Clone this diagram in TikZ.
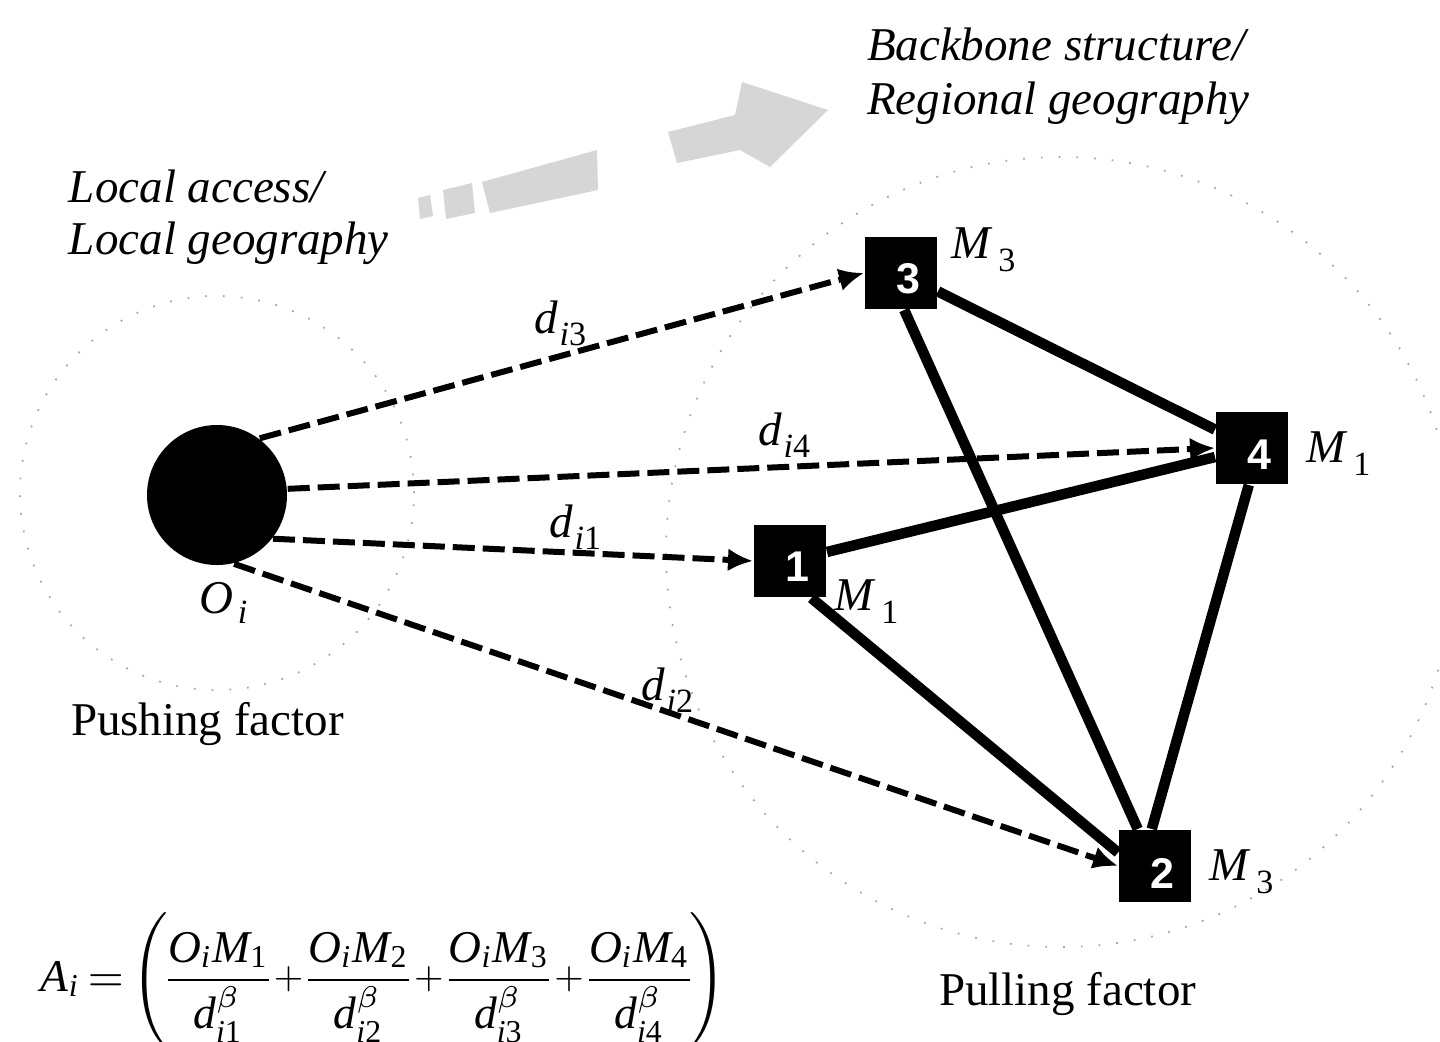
\documentclass[tikz,border=0pt]{standalone}
\usepackage{amsmath}
\usepackage{graphicx}
\usepackage{fontspec}
\setmainfont{Liberation Serif}
\newfontfamily\digitfont{Liberation Sans}
\usetikzlibrary{arrows.meta}
\newcommand\itx[1]{\text{\itshape #1}}
\newcommand\sublow[2]{\raisebox{-#1}{\fontsize{6.8}{7}\selectfont #2}}
\newcommand\Mlab[1]{\textit{M}\kern1.2pt\sublow{2.6pt}{#1}}
\newcommand\dlab[1]{\textit{d}\kern0.4pt\sublow{2.4pt}{\textit{i}#1}}
\newcommand\frc[1]{\dfrac{\itx{O}_{\itx{i}}\itx{M}_{\text{#1}}}{\itx{d}^{\beta}_{\itx{i}\text{#1}}}}
\newcommand\pls{\mathbin{\raisebox{0.5pt}{\scalebox{0.82}{$+$}}}}
\begin{document}
\begin{tikzpicture}[x=0.2pt,y=-0.2pt,
  site/.style={fill=black, minimum size=14.4pt, inner sep=0pt, draw=none},
  digit/.style={text=white, inner sep=0pt, font=\digitfont\bfseries\fontsize{8.6}{9}\selectfont},
  origin/.style={circle, fill=black, minimum size=28pt, inner sep=0pt},
  lab/.style={inner sep=0pt, font=\fontsize{9.4}{11}\selectfont\itshape},
  plain/.style={inner sep=0pt, font=\fontsize{9.4}{11}\selectfont},
  link/.style={line width=2.1pt},
  reach/.style={line width=1.2pt, dash pattern=on 4.4pt off 1.6pt, -{Latex[length=5pt,width=4.6pt]}},
  ring/.style={gray!70, line width=0.35pt, dash pattern=on 0.35pt off 3.2pt},
  fade/.style={fill=gray!32, draw=none}]
\clip (0,0) rectangle (1440,1041);
\fill[white] (0,0) rectangle (1440,1041);
% dotted zones
\draw[ring] (217,493) circle[radius=39.4pt];
\draw[ring] (1061,552) circle[radius=79pt];
% faded arrow
\fill[fade] (418,198) -- (430,195) -- (433,216) -- (420,219) -- cycle;
\fill[fade] (443,190) -- (472,183) -- (475,213) -- (446,219) -- cycle;
\fill[fade] (482,182) -- (597,150) -- (598,190) -- (490,213) -- cycle;
\fill[fade] (668,132) -- (735,115) -- (742,82) -- (828,110) -- (770,167) -- (740,150) -- (677,163) -- cycle;
% nodes
\node[origin] (O) at (217,495) {};
\node[site] (n1) at (790,561) {};
\node[site] (n2) at (1155,866) {};
\node[site] (n3) at (901,273) {};
\node[site] (n4) at (1252,448) {};
\node[digit] (d1) at ([shift={(7,6)}]n1.center) {1};
\node[digit] (d2) at ([shift={(7,7)}]n2.center) {2};
\node[digit] (d3) at ([shift={(7,6)}]n3.center) {3};
\node[digit] (d4) at ([shift={(7,7)}]n4.center) {4};
% backbone links
\draw[link] (n3) -- (n4);
\draw[link] (n3.-85) -- (n2.115);
\draw[link] (n1) -- (n4);
\draw[link] (n1.-60) -- (n2.160);
\draw[link] (n4.-95) -- (n2.95);
% reach arrows
\draw[reach] (O.53) -- (n3.west);
\draw[reach] (O.5) -- (n4.west);
\draw[reach] (O.-38) -- (n1.west);
\draw[reach] (O.-76) -- (n2.west);
% labels
\node[lab, anchor=base west] (t1) at (866,60) {Backbone structure/};
\node[lab, anchor=base west] (t2) at (866,114) {Regional geography};
\node[lab, anchor=base west] (t3) at (68,202) {Local access/};
\node[lab, anchor=base west] (t4) at (68,254) {Local geography};
\node[plain, anchor=base west] (t5) at (70,735) {Pushing factor};
\node[plain, anchor=base west] (t6) at (938,1005) {Pulling factor};
\node[plain, anchor=base west] (m3) at (950,258) {\Mlab{3}};
\node[plain, anchor=base west] (m4) at (1305,462) {\Mlab{1}};
\node[plain, anchor=base west] (m1) at (833,610) {\Mlab{1}};
\node[plain, anchor=base west] (m2) at (1208,880) {\Mlab{3}};
\node[plain, anchor=base west] (l3) at (533,333) {\dlab{3}};
\node[plain, anchor=base west] (l4) at (757,445) {\dlab{4}};
\node[plain, anchor=base west] (l1) at (548,537) {\dlab{1}};
\node[plain, anchor=base west] (l2) at (640,700) {\dlab{2}};
\node[plain, anchor=base west] (oi) at (198,613) {\textit{O}\kern1pt\sublow{2pt}{\textit{i}}};
\node[anchor=west, inner sep=0pt, font=\fontsize{9.1}{11}\selectfont] (f) at (40,980)
  {$\medmuskip=2mu \thickmuskip=3mu \nulldelimiterspace=0pt \itx{A}_{\itx{i}} = \left( \frc{1} \pls \frc{2} \pls \frc{3} \pls \frc{4} \right)$};
\end{tikzpicture}
\end{document}
